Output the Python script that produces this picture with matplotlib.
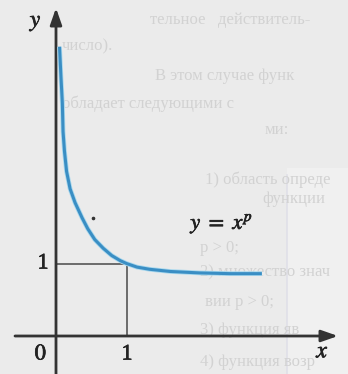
import numpy as np
import matplotlib
matplotlib.use("Agg")
import matplotlib.pyplot as plt
import matplotlib.patheffects as pe

plt.rcParams['mathtext.fontset'] = 'stix'
plt.rcParams['font.family'] = ['Liberation Serif', 'DejaVu Serif']

# curve (x, y in axis units)
curve_x = [0.05, 0.07, 0.09, 0.10, 0.12, 0.15, 0.20, 0.27, 0.37, 0.45, 0.55,
           0.67, 0.79, 0.91, 1.0, 1.15, 1.33, 1.62, 2.04, 2.47, 2.92]
curve_y = [3.99, 3.58, 3.21, 2.82, 2.55, 2.27, 2.03, 1.84, 1.63, 1.48, 1.33,
           1.21, 1.11, 1.04, 1.0, 0.95, 0.92, 0.89, 0.87, 0.86, 0.86]
curve_label = r"$y\ =\ x^p$"
tick_label = "1"
origin_label = "0"

# faint text from the page behind the picture
back_lines = ["тельное   действитель-", "число).", "В этом случае функ",
              "обладает следующими с", "ми:", "1) область опреде",
              "функции", "р > 0;", "2) множество знач", "вии p > 0;",
              "3) функция яв", "4) функция возр"]
back_pos = [(150, 20), (62, 46), (155, 76), (62, 104), (265, 130), (205, 180),
            (262, 199), (200, 248), (200, 272), (205, 302), (200, 330), (200, 362)]

W, H = 348, 374
ox, oy = 56, 336      # origin in pixels
ux, uy = 70.5, 72.5   # pixels per unit

fig = plt.figure(figsize=(W / 100, H / 100), dpi=100)
fig.patch.set_facecolor('#ebebeb')
ax = fig.add_axes([0, 0, 1, 1])
ax.set_facecolor('#ebebeb')
ax.set_xlim(-ox / ux, (W - ox) / ux)
ax.set_ylim(-(H - oy) / uy, oy / uy)
ax.axis('off')


def px(x, y):
    return (x - ox) / ux, (oy - y) / uy


# background texture
ax.axvspan(px(287, 0)[0], px(W, 0)[0], ymin=0, ymax=0.55, color='#f0f0f0', zorder=0, lw=0)
ax.plot([px(287, 0)[0]] * 2, [px(0, 175)[1], px(0, H)[1]], color='#e0e0e8', lw=1.2, zorder=0)
for txt, (bx, by) in zip(back_lines, back_pos):
    ax.text(*px(bx, by), txt, fontsize=12, color='#d2d2d2', va='center', ha='left',
            family=['Liberation Serif', 'DejaVu Serif'], zorder=1)

axis_col = '#333333'
# axes with arrows
ax.annotate('', xy=px(338, oy), xytext=px(15, oy),
            arrowprops=dict(arrowstyle='-|>,head_length=1.0,head_width=0.35',
                            color=axis_col, lw=2.0, shrinkA=0, shrinkB=0), zorder=5)
ax.annotate('', xy=px(ox, 8), xytext=px(ox, H + 2),
            arrowprops=dict(arrowstyle='-|>,head_length=1.0,head_width=0.35',
                            color=axis_col, lw=2.0, shrinkA=0, shrinkB=0), zorder=5)

# guide lines to (1, 1)
ax.plot([0, 1], [1, 1], color='#555555', lw=1.2, zorder=4)
ax.plot([1, 1], [0, 1], color='#555555', lw=1.2, zorder=4)

# the curve
ax.plot(curve_x, curve_y, color='#3a8ec4', lw=2.2, solid_capstyle='butt', zorder=6,
        path_effects=[pe.Stroke(linewidth=3.4, foreground='#a8d8ee'), pe.Normal()])

# stray dot
ax.plot(*px(93, 218), 'o', color='#333333', ms=1.6, zorder=6)

bold = [pe.withStroke(linewidth=0.5, foreground='#222222')]
lab = dict(color='#222222', ha='center', va='center', path_effects=bold, zorder=7)
ax.text(*px(36, 23), r"$y$", fontsize=17, **lab)
ax.text(*px(323, 352), r"$x$", fontsize=17, **lab)
ax.text(*px(41, 355), r"$" + origin_label + "$", fontsize=16, **lab)
ax.text(*px(127, 355), tick_label, fontsize=16, **lab)
ax.text(*px(43, 264), tick_label, fontsize=16, **lab)
ax.text(*px(222, 224), curve_label, fontsize=16, **lab)

fig.savefig('out.png', dpi=100, facecolor=fig.get_facecolor())
